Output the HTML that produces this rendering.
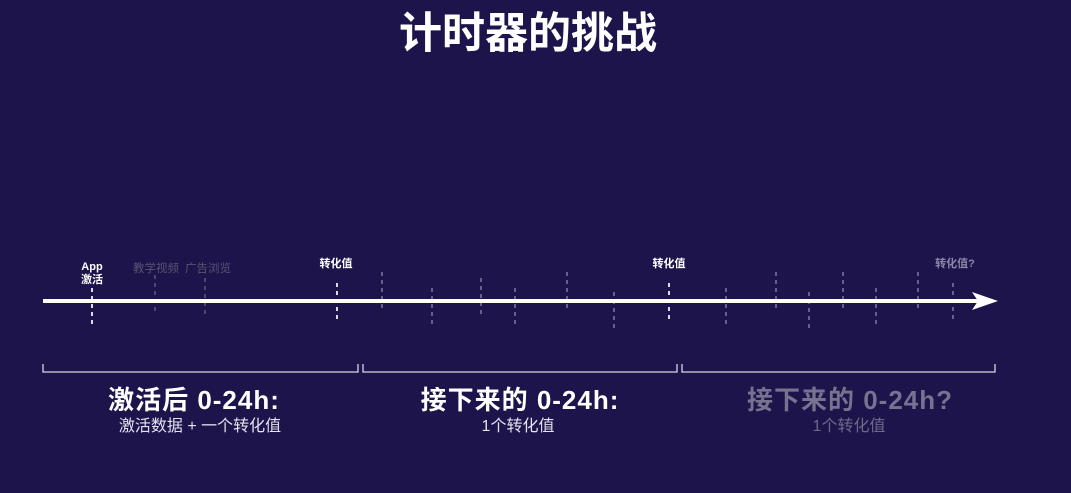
<!DOCTYPE html>
<html><head><meta charset="utf-8"><style>
html,body{margin:0;padding:0;background:#1d144b;}
body{width:1071px;height:493px;overflow:hidden;position:relative;font-family:"Liberation Sans","Noto Sans CJK SC",sans-serif;}
svg{position:absolute;left:0;top:0}
</style></head><body>
<svg width="1071" height="493">
<text x="528" y="48" text-anchor="middle" fill="#fff" font-size="43" font-weight="bold" font-family="Liberation Sans, Noto Sans CJK SC, sans-serif">计时器的挑战</text>
<g id="ticks"></g>
<line x1="43" y1="301" x2="985" y2="301" stroke="#fff" stroke-width="4"/>
<polygon points="972,292 998,301 972,310 978,301" fill="#fff"/>
<g font-family="Liberation Sans, Noto Sans CJK SC, sans-serif" font-weight="bold" text-anchor="middle">
<text x="92" y="270" fill="#fff" font-size="11">App</text>
<text x="92" y="283" fill="#fff" font-size="11">激活</text>
<text x="156" y="272" fill="#5a5470" font-size="11.5" font-weight="normal">教学视频</text>
<text x="208" y="272" fill="#5a5470" font-size="11.5" font-weight="normal">广告浏览</text>
<text x="336" y="267" fill="#fff" font-size="11">转化值</text>
<text x="669" y="267" fill="#fff" font-size="11">转化值</text>
<text x="955" y="267" fill="#8d88a6" font-size="11">转化值?</text>
</g>
<g stroke="#d8d6e2" stroke-width="1.3" fill="none">
<path d="M43,364 V372 H358 V364"/>
<path d="M363,364 V372 H677 V364"/>
<path d="M682,364 V372 H995 V364"/>
</g>
<g font-family="Liberation Sans, Noto Sans CJK SC, sans-serif" text-anchor="middle">
<text x="194" y="409" fill="#fff" font-size="26" font-weight="bold" letter-spacing="1">激活后 0-24h:</text>
<text x="200" y="431" fill="#e4e2ee" font-size="16">激活数据 + 一个转化值</text>
<text x="520" y="409" fill="#fff" font-size="26" font-weight="bold" letter-spacing="1">接下来的 0-24h:</text>
<text x="518" y="431" fill="#e4e2ee" font-size="16">1个转化值</text>
<text x="850" y="409" fill="#77728f" font-size="26" font-weight="bold" letter-spacing="1">接下来的 0-24h?</text>
<text x="849" y="431" fill="#6e6988" font-size="16">1个转化值</text>
</g>
</svg>
<script>
const tickX=[92,155,205,337,382,432,481,515,567,614,669,726,776,809,843,876,918,953];
const tickTop=[288,275,278,283,272,288,278,288,272,292,283,288,272,292,272,288,272,283];
const tickLen=[37,37,37,39,38,38,38,38,38,38,39,38,38,38,38,38,38,39];
const tickBright=[1,0,0,1,0,0,0,0,0,0,1,0,0,0,0,0,0,0];
const g=document.getElementById('ticks');
const NS='http://www.w3.org/2000/svg';
tickX.forEach((x,i)=>{
  const l=document.createElementNS(NS,'line');
  l.setAttribute('x1',x);l.setAttribute('x2',x);
  l.setAttribute('y1',tickTop[i]);l.setAttribute('y2',tickTop[i]+tickLen[i]);
  l.setAttribute('stroke',tickBright[i]?'#dcdae6':(i<3?'#6a6482':'#8e89a8'));
  l.setAttribute('stroke-width',tickBright[i]?2:1.3);
  l.setAttribute('stroke-dasharray','4,4');
  
  
  g.appendChild(l);
});
</script>
</body></html>
